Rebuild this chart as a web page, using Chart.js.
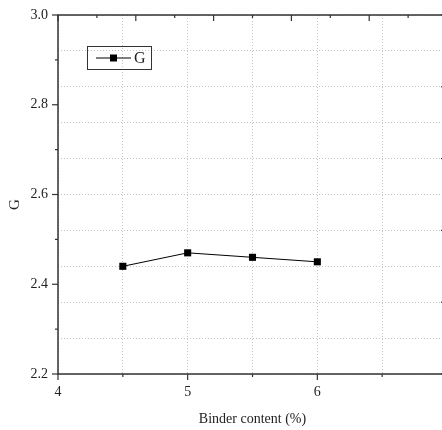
<!DOCTYPE html>
<html>
<head>
<meta charset="utf-8">
<script src="https://cdn.jsdelivr.net/npm/chart.js@4.4.1/dist/chart.umd.min.js"></script>
<style>
  html, body { margin: 0; padding: 0; background: #fff; overflow: hidden; }
  #wrap { width: 452px; height: 430px; }
</style>
</head>
<body>
<div id="wrap"><canvas id="chart1" width="452" height="430"></canvas></div>
<script>
// data
var binder = [4.5, 5, 5.5, 6];
var gValues = [2.44, 2.47, 2.46, 2.45];
var yTicks = [2.2, 2.4, 2.6, 2.8, 3.0];
var xTicks = [4, 5, 6];
var seriesName = 'G';
var xTitle = 'Binder content (%)';
var yTitle = 'G';

var serif = '"Liberation Serif", "DejaVu Serif", serif';
var ink = '#333';
var txt = '#222';

var points = binder.map(function (b, i) { return { x: b, y: gValues[i] }; });

// keep the plot box fixed whatever the label sizes are
function pinBox(size, horizontal) {
    return function (s) {
        if (horizontal) s.height = size; else s.width = size;
        s.paddingTop = 0; s.paddingBottom = 0;
        s.paddingLeft = 0; s.paddingRight = 0;
    };
}

// frame, tick marks, labels and the boxed legend (drawn like the Origin plot)
var framePlugin = {
    id: 'frame',
    afterDatasetsDraw: function (chart) {
        var ctx = chart.ctx, a = chart.chartArea;
        var xs = chart.scales.x, ys = chart.scales.y, y2 = chart.scales.y2;
        ctx.save();
        ctx.strokeStyle = ink;
        ctx.lineWidth = 1.5;
        ctx.strokeRect(a.left, a.top, a.right - a.left, a.bottom - a.top);

        ctx.lineWidth = 1.2;
        function tick(x1, y1, x2, y2_) {
            ctx.beginPath(); ctx.moveTo(x1, y1); ctx.lineTo(x2, y2_); ctx.stroke();
        }
        // left axis: outward
        for (var v = 2.2; v <= 3.0001; v += 0.1) {
            var py = ys.getPixelForValue(v);
            var major = Math.abs(Math.round(v * 10) % 2) === 0;
            tick(a.left, py, a.left - (major ? 6 : 3), py);
        }
        // bottom axis: outward
        for (var u = 4; u <= 7.0001; u += 0.5) {
            var px = xs.getPixelForValue(u);
            var maj = Math.abs(u - Math.round(u)) < 1e-6;
            tick(px, a.bottom, px, a.bottom + (maj ? 6 : 3));
        }
        // top axis: inward, 5 major divisions
        var w = a.right - a.left;
        for (var k = 0; k <= 10; k++) {
            var tx = a.left + w * k / 10;
            tick(tx, a.top, tx, a.top + (k % 2 === 0 ? 6 : 3));
        }
        // right axis: inward
        for (var j = 0; j <= 10; j++) {
            var ry = y2.getPixelForValue(j);
            tick(a.right, ry, a.right - (j % 2 === 0 ? 6 : 3), ry);
        }

        // tick labels
        ctx.fillStyle = txt;
        ctx.font = '14px ' + serif;
        ctx.textBaseline = 'middle';
        ctx.textAlign = 'right';
        yTicks.forEach(function (t) {
            ctx.fillText(t.toFixed(1), a.left - 10, ys.getPixelForValue(t));
        });
        ctx.textAlign = 'center';
        xTicks.forEach(function (t) {
            ctx.fillText(String(t), xs.getPixelForValue(t), a.bottom + 18);
        });

        // axis titles
        ctx.fillText(xTitle, (a.left + a.right) / 2, 419);
        ctx.save();
        ctx.translate(15, (a.top + a.bottom) / 2 + 10);
        ctx.rotate(-Math.PI / 2);
        ctx.font = '15px ' + serif;
        ctx.fillText(yTitle, 0, 0);
        ctx.restore();

        // legend box
        var bx = 87, by = 46, bw = 64, bh = 23;
        ctx.lineWidth = 1;
        ctx.strokeStyle = ink;
        ctx.strokeRect(bx + 0.5, by + 0.5, bw, bh);
        var ly = by + bh / 2 + 0.5;
        ctx.strokeStyle = '#000';
        tick(bx + 9, ly, bx + 44, ly);
        ctx.fillStyle = '#000';
        ctx.fillRect(bx + 23, ly - 3.5, 7, 7);
        ctx.font = '16px ' + serif;
        ctx.textAlign = 'left';
        ctx.fillStyle = txt;
        ctx.fillText(seriesName, bx + 47, ly + 1);
        ctx.restore();
    }
};

const chart1 = new Chart(document.getElementById('chart1'), {
    type: 'line',
    data: {
        datasets: [{
            label: seriesName,
            data: points,
            borderColor: '#000',
            backgroundColor: '#000',
            borderWidth: 1,
            pointStyle: 'rect',
            pointRadius: 5,
            pointBorderWidth: 0,
            tension: 0
        }]
    },
    options: {
        responsive: false,
        animation: false,
        layout: { padding: { top: 15, left: 0, right: 0, bottom: 0 } },
        plugins: { legend: { display: false }, tooltip: { enabled: false } },
        scales: {
            x: {
                type: 'linear',
                min: 4, max: 7,
                afterFit: pinBox(56, true),
                afterBuildTicks: function (s) {
                    var t = [];
                    for (var v = 4; v <= 7.0001; v += 0.5) t.push({ value: v });
                    s.ticks = t;
                },
                ticks: { display: false },
                grid: { color: '#c4c4c4', lineWidth: 1, drawTicks: false },
                border: { display: false, dash: [1, 2] }
            },
            y: {
                position: 'left',
                min: 2.2, max: 3.0,
                afterFit: pinBox(58, false),
                ticks: { display: false },
                grid: { display: false, drawTicks: false },
                border: { display: false }
            },
            y2: {
                position: 'right',
                min: 0, max: 10,
                afterFit: pinBox(5, false),
                ticks: { display: false, stepSize: 1 },
                grid: { color: '#c4c4c4', lineWidth: 1, drawTicks: false },
                border: { display: false, dash: [1, 2] }
            }
        }
    },
    plugins: [framePlugin]
});
</script>
</body>
</html>
